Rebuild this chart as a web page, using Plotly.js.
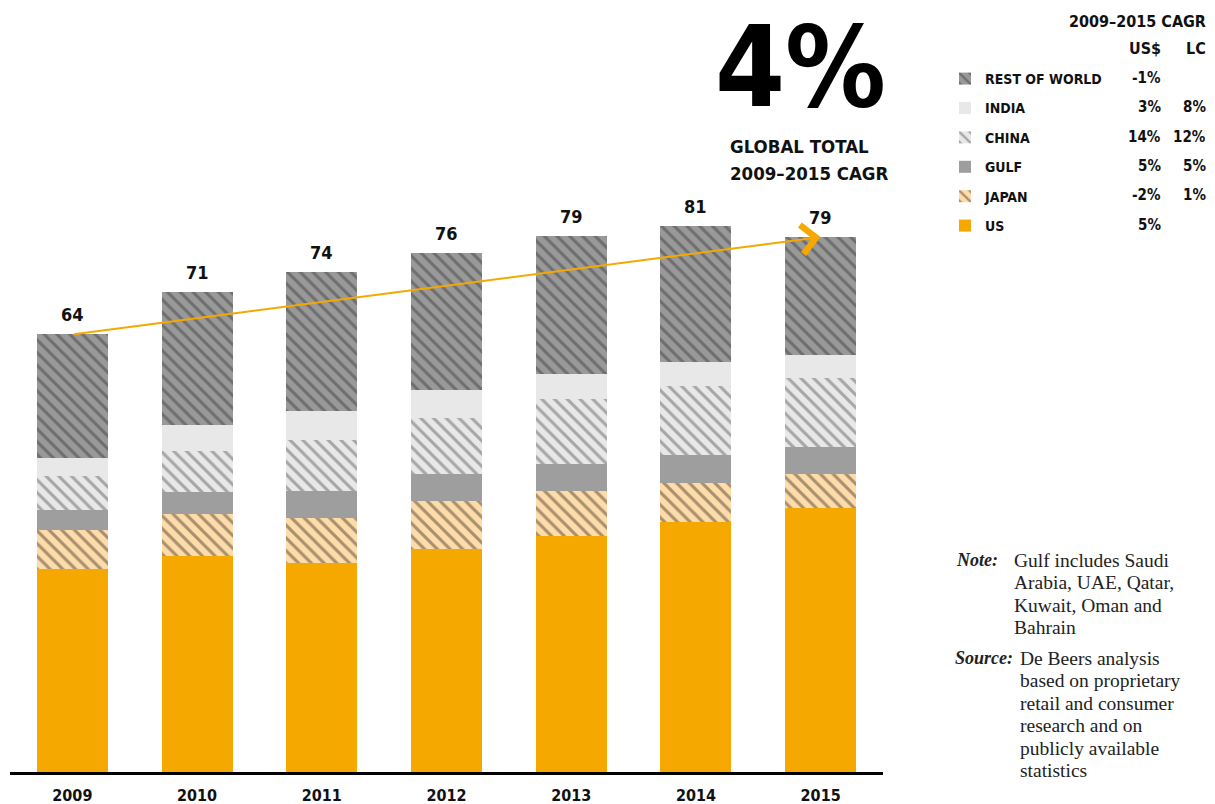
<!DOCTYPE html>
<html>
<head>
<meta charset="utf-8">
<script src="https://cdn.plot.ly/plotly-3.0.1.min.js"></script>
<style>html,body{margin:0;padding:0;background:#fff;}#chart{width:1215px;height:804px;}</style>
</head>
<body>
<div id="chart"></div>
<script>
// ---------------- data ----------------
const years = ['2009', '2010', '2011', '2012', '2013', '2014', '2015'];
const us          = [29.9, 31.9, 30.9, 32.9, 34.85, 36.9, 38.9];
const japan       = [5.8, 6.15, 6.6, 7.0, 6.6, 5.75, 5.05];
const gulf        = [3.0, 3.25, 3.9, 4.0, 4.0, 4.1, 4.0];
const china       = [5.0, 6.05, 7.6, 8.3, 9.6, 10.2, 10.2];
const india       = [2.65, 3.85, 4.2, 4.1, 3.7, 3.5, 3.35];
const restOfWorld = [18.2, 19.6, 20.55, 20.25, 20.25, 20.05, 17.4];
const totals      = [64, 71, 74, 76, 79, 81, 79];
const seriesNames = ['US', 'JAPAN', 'GULF', 'CHINA', 'INDIA', 'REST OF WORLD'];
const cagrUSD     = ['5%', '-2%', '5%', '14%', '3%', '-1%'];
const cagrLC      = ['', '1%', '5%', '12%', '8%', ''];
const globalCagr  = '4%';
const noteLines   = ['Gulf includes Saudi', 'Arabia, UAE, Qatar,', 'Kuwait, Oman and', 'Bahrain'];
const sourceLines = ['De Beers analysis', 'based on proprietary', 'retail and consumer', 'research and on', 'publicly available', 'statistics'];

// ---------------- layout helpers ----------------
const W = 1215, H = 804;
const M = {l: 10, r: 332, t: 20, b: 32};
const PW = W - M.l - M.r, PH = H - M.t - M.b;
const px = x => (x - M.l) / PW;
const py = y => (H - M.b - y) / PH;
const COND = 'DejaVu Sans Condensed, DejaVu Sans, sans-serif';
const SERIF = 'Liberation Serif, DejaVu Serif, serif';

const seriesValues = [us, japan, gulf, china, india, restOfWorld];
const styles = [
  {bg: '#f5a800', fg: '#f5a800', shape: ''},
  {bg: '#fddcaa', fg: '#a88f6e', shape: '\\'},
  {bg: '#9e9e9e', fg: '#9e9e9e', shape: ''},
  {bg: '#e8e8e8', fg: '#a6a6a6', shape: '\\'},
  {bg: '#e8e8e8', fg: '#e8e8e8', shape: ''},
  {bg: '#999999', fg: '#6e6e6e', shape: '\\'}
];

const traces = seriesNames.map((name, i) => ({
  type: 'bar',
  name: name,
  legendgroup: name,
  legendrank: 100 - i,
  x: years,
  y: seriesValues[i],
  hoverinfo: 'skip',
  marker: {
    color: styles[i].bg,
    line: {width: 0},
    pattern: styles[i].shape ? {shape: styles[i].shape, bgcolor: styles[i].bg, fgcolor: styles[i].fg,
      fillmode: 'replace', size: 9, solidity: 0.33} : {shape: ''}
  }
}));

const sums = years.map((_, j) => seriesValues.reduce((a, s) => a + s[j], 0));

const annotations = [];
const bold = (size, color) => ({family: COND, size: size, color: color || '#111', weight: 'bold'});
// totals above bars
years.forEach((yr, j) => {
  annotations.push({x: j, y: sums[j], xref: 'x', yref: 'y', text: String(totals[j]),
    showarrow: false, yanchor: 'bottom', yshift: 7, font: bold(18)});
});
// trend arrow
annotations.push({x: years.length - 1, y: sums[sums.length - 1], xref: 'x', yref: 'y',
  ax: 0, ay: sums[0], axref: 'x', ayref: 'y', text: '', showarrow: true,
  arrowhead: 4, arrowsize: 2.8, arrowwidth: 2, arrowcolor: '#f5a800', standoff: 0});
// big global number
annotations.push({x: px(887), y: py(133.5), xref: 'paper', yref: 'paper', text: globalCagr,
  showarrow: false, xanchor: 'right', yanchor: 'bottom', borderpad: 0, font: bold(112, '#000')});
annotations.push({x: px(729), y: py(146.5), xref: 'paper', yref: 'paper', text: 'GLOBAL TOTAL',
  showarrow: false, xanchor: 'left', yanchor: 'middle', borderpad: 0, font: bold(18.5)});
annotations.push({x: px(729), y: py(173), xref: 'paper', yref: 'paper', text: '2009–2015 CAGR',
  showarrow: false, xanchor: 'left', yanchor: 'middle', borderpad: 0, font: bold(18.5)});
// legend header
annotations.push({x: px(1208), y: py(22), xref: 'paper', yref: 'paper', text: '2009–2015 CAGR',
  showarrow: false, xanchor: 'right', yanchor: 'middle', font: bold(16)});
annotations.push({x: px(1163), y: py(48), xref: 'paper', yref: 'paper', text: 'US$',
  showarrow: false, xanchor: 'right', yanchor: 'middle', font: bold(16)});
annotations.push({x: px(1208), y: py(48), xref: 'paper', yref: 'paper', text: 'LC',
  showarrow: false, xanchor: 'right', yanchor: 'middle', font: bold(16)});
// CAGR values, rows from top (rest of world) to bottom (US)
const rowY = [225, 195, 166, 137, 107, 78];
seriesNames.forEach((n, i) => {
  annotations.push({x: px(1163), y: py(rowY[i]), xref: 'paper', yref: 'paper', text: cagrUSD[i],
    showarrow: false, xanchor: 'right', yanchor: 'middle', font: bold(15)});
  if (cagrLC[i]) annotations.push({x: px(1208), y: py(rowY[i]), xref: 'paper', yref: 'paper', text: cagrLC[i],
    showarrow: false, xanchor: 'right', yanchor: 'middle', font: bold(15)});
});
// note & source
const serifFont = {family: SERIF, size: 19.5, color: '#222'};
const serifLabel = {family: SERIF, size: 18, color: '#222'};
annotations.push({x: px(954), y: py(560), xref: 'paper', yref: 'paper', text: '<b><i>Note:</i></b>',
  showarrow: false, xanchor: 'left', yanchor: 'middle', font: serifLabel});
noteLines.forEach((t, k) => annotations.push({x: px(1012), y: py(560 + k * 22.5), xref: 'paper', yref: 'paper',
  text: t, showarrow: false, xanchor: 'left', yanchor: 'middle', font: serifFont}));
annotations.push({x: px(953), y: py(658), xref: 'paper', yref: 'paper', text: '<b><i>Source:</i></b>',
  showarrow: false, xanchor: 'left', yanchor: 'middle', font: serifLabel});
sourceLines.forEach((t, k) => annotations.push({x: px(1018), y: py(658 + k * 22.5), xref: 'paper', yref: 'paper',
  text: t, showarrow: false, xanchor: 'left', yanchor: 'middle', font: serifFont}));

const layout = {
  width: W, height: H,
  margin: M,
  paper_bgcolor: '#fff', plot_bgcolor: '#fff',
  barmode: 'stack', bargap: 0.43,
  showlegend: true,
  legend: {x: px(945), xanchor: 'left', y: py(63), yanchor: 'top',
    traceorder: 'grouped', tracegroupgap: 8.2, bgcolor: 'rgba(0,0,0,0)',
    font: bold(14), itemclick: false},
  xaxis: {type: 'category', range: [-0.5, 6.5], showgrid: false, zeroline: false,
    showline: true, linecolor: '#000', linewidth: 3, ticks: '', ticklabelstandoff: 7,
    tickfont: bold(16), fixedrange: true},
  yaxis: {visible: false, range: [0, PH / 6.78], fixedrange: true},
  annotations: annotations
};

Plotly.newPlot('chart', traces, layout, {displayModeBar: false, staticPlot: true});
</script>
</body>
</html>
